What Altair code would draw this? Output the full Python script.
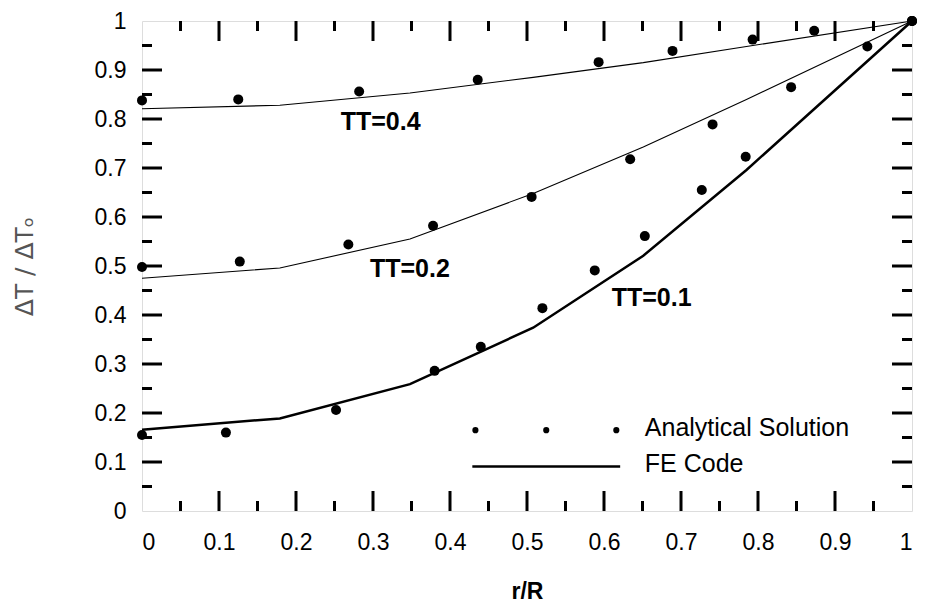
import altair as alt
import pandas as pd

# ---- FE Code (piecewise linear) ----
fe_r = [0.0, 0.179, 0.348, 0.508, 0.651, 0.785, 1.0]
fe_tt01 = [0.166, 0.189, 0.259, 0.374, 0.521, 0.696, 1.0]
fe_tt02 = [0.475, 0.496, 0.555, 0.648, 0.743, 0.840, 1.0]
fe_tt04 = [0.821, 0.828, 0.853, 0.885, 0.915, 0.948, 1.0]

# ---- Analytical solution (dots) ----
an_r_01 = [0.0, 0.109, 0.252, 0.380, 0.440, 0.520, 0.588, 0.653, 0.727, 0.784, 1.0]
an_v_01 = [0.155, 0.160, 0.206, 0.286, 0.335, 0.414, 0.491, 0.561, 0.655, 0.723, 1.0]
an_r_02 = [0.0, 0.127, 0.268, 0.378, 0.506, 0.634, 0.741, 0.843, 0.942, 1.0]
an_v_02 = [0.498, 0.509, 0.544, 0.582, 0.641, 0.718, 0.789, 0.865, 0.948, 1.0]
an_r_04 = [0.0, 0.125, 0.282, 0.436, 0.593, 0.689, 0.793, 0.873, 1.0]
an_v_04 = [0.838, 0.840, 0.856, 0.880, 0.916, 0.939, 0.962, 0.980, 1.0]

# ---- curve labels ----
label_text = ["TT=0.4", "TT=0.2", "TT=0.1"]
label_x = [0.258, 0.296, 0.610]
label_y = [0.794, 0.494, 0.434]

# ---- legend entries ----
legend_text = ["Analytical Solution", "FE Code"]
legend_tx = [0.653, 0.653]
legend_ty = [0.170, 0.096]
legend_dot_x = [0.433, 0.525, 0.616]
legend_dot_y = [0.165, 0.165, 0.165]
legend_line_x = [0.429]
legend_line_x2 = [0.621]
legend_line_y = [0.091]

tick_vals = [0, 0.1, 0.2, 0.3, 0.4, 0.5, 0.6, 0.7, 0.8, 0.9, 1.0]
major_ticks = [0.1, 0.2, 0.3, 0.4, 0.5, 0.6, 0.7, 0.8, 0.9]
minor_ticks = [0.05, 0.15, 0.25, 0.35, 0.45, 0.55, 0.65, 0.75, 0.85, 0.95]

W, H = 770, 490
FONT = "Liberation Sans"

fe_df = pd.DataFrame(
    {"x": fe_r * 3,
     "y": fe_tt01 + fe_tt02 + fe_tt04,
     "s": ["0.1"] * 7 + ["0.2"] * 7 + ["0.4"] * 7,
     "w": [2.5] * 7 + [1.1] * 7 + [1.1] * 7}
)
an_df = pd.DataFrame(
    {"x": an_r_01 + an_r_02 + an_r_04, "y": an_v_01 + an_v_02 + an_v_04}
)
lab_df = pd.DataFrame({"x": label_x, "y": label_y, "t": label_text})
leg_txt_df = pd.DataFrame({"x": legend_tx, "y": legend_ty, "t": legend_text})
leg_dot_df = pd.DataFrame({"x": legend_dot_x, "y": legend_dot_y})
leg_line_df = pd.DataFrame({"x": legend_line_x, "x2": legend_line_x2, "y": legend_line_y})

xscale = alt.Scale(domain=[0, 1], nice=False, zero=False)
yscale = alt.Scale(domain=[0, 1], nice=False, zero=False)

X = alt.X(
    "x:Q", scale=xscale,
    axis=alt.Axis(
        values=tick_vals, format=".1~f", ticks=False, domain=False, grid=False,
        labelFont=FONT, labelFontSize=23, labelColor="black", labelPadding=20,
        title="r/R", titleFont=FONT, titleFontSize=23, titleFontWeight="bold",
        titleColor="black", titleY=80, titleBaseline="middle",
    ),
)
Y = alt.Y(
    "y:Q", scale=yscale,
    axis=alt.Axis(
        values=tick_vals, format=".1~f", ticks=False, domain=False, grid=False,
        labelFont=FONT, labelFontSize=23, labelColor="black", labelPadding=16,
        title="ΔT / ΔTₒ", titleFont="DejaVu Sans", titleFontSize=25,
        titleFontWeight="normal", titleColor="#555", titleX=-118, titleY=H / 2,
        titleAngle=270, titleAlign="center", titleBaseline="middle",
    ),
)

lines = alt.Chart(fe_df).mark_line(color="black").encode(
    x=X, y=Y, detail="s:N", strokeWidth=alt.StrokeWidth("w:Q", scale=None)
)
dots = alt.Chart(an_df).mark_circle(size=100, color="black", opacity=1).encode(x=X, y=Y)
labels = alt.Chart(lab_df).mark_text(
    font=FONT, fontSize=25, fontWeight="bold", align="left", baseline="middle", color="black"
).encode(x=X, y=Y, text="t:N")
leg_txt = alt.Chart(leg_txt_df).mark_text(
    font=FONT, fontSize=25, align="left", baseline="middle", color="black"
).encode(x=X, y=Y, text="t:N")
leg_dots = alt.Chart(leg_dot_df).mark_circle(size=38, color="black", opacity=1).encode(x=X, y=Y)
leg_line = alt.Chart(leg_line_df).mark_rule(color="black", strokeWidth=2.5).encode(
    x=X, x2="x2:Q", y=Y
)

def xticks(vals, length, top):
    df = pd.DataFrame({"x": vals})
    if top:
        enc = dict(y=alt.value(0), y2=alt.value(length))
    else:
        enc = dict(y=alt.value(H), y2=alt.value(H - length))
    return alt.Chart(df).mark_rule(color="black", strokeWidth=3).encode(x=X, **enc)

def yticks(vals, length, right):
    df = pd.DataFrame({"y": vals})
    if right:
        enc = dict(x=alt.value(W), x2=alt.value(W - length))
    else:
        enc = dict(x=alt.value(0), x2=alt.value(length))
    return alt.Chart(df).mark_rule(color="black", strokeWidth=3).encode(y=Y, **enc)

ticks = [
    xticks(major_ticks, 20, False), xticks(minor_ticks, 10, False),
    xticks(major_ticks, 20, True), xticks(minor_ticks, 10, True),
    yticks(major_ticks, 20, False), yticks(minor_ticks, 10, False),
    yticks(major_ticks, 20, True), yticks(minor_ticks, 10, True),
]

chart = alt.layer(
    lines, *ticks, dots, labels, leg_line, leg_dots, leg_txt
).properties(
    width=W, height=H,
    autosize=alt.AutoSizeParams(type="none"),
    padding={"left": 134, "top": 13, "right": 5, "bottom": 92},
).configure_view(
    stroke="black", strokeWidth=4
).configure(background="white")

chart.save("out.html", embed_options={"renderer": "svg", "actions": False})
